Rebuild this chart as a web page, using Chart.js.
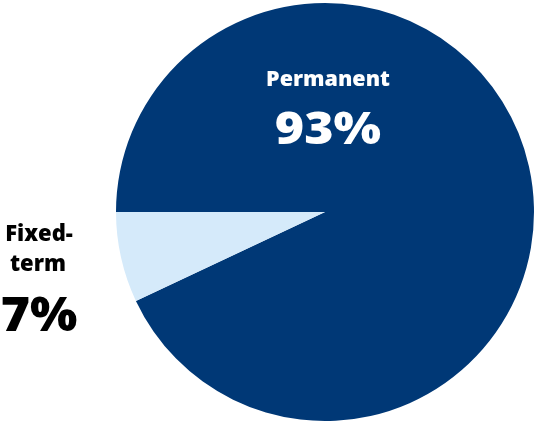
<!DOCTYPE html>
<html>
<head>
<meta charset="utf-8">
<script src="https://cdn.jsdelivr.net/npm/chart.js@4/dist/chart.umd.min.js"></script>
<style>
  html, body { margin: 0; padding: 0; background: #ffffff; }
  #wrap { width: 535px; height: 423px; }
</style>
</head>
<body>
<div id="wrap"><canvas id="chart" width="535" height="423"></canvas></div>
<script>
// Employment contract types
const categories = ['Permanent', 'Fixed-term'];
const shares = [93, 7];
const percentLabels = ['93%', '7%'];
const sliceColors = ['#003876', '#d5eafa'];

const FONT = '"Open Sans", sans-serif';

// Draws centred text, optionally stretched horizontally
function stretchedText(ctx, text, x, y, sx) {
  ctx.save();
  ctx.translate(x, y);
  ctx.scale(sx, 1);
  ctx.fillText(text, 0, 0);
  ctx.restore();
}

// Slice labels: Permanent inside the large slice, Fixed-term to the left of the pie
const sliceLabels = {
  id: 'sliceLabels',
  afterDatasetsDraw(chart) {
    const ctx = chart.ctx;
    const arc = chart.getDatasetMeta(0).data[0];
    const cx = arc.x, cy = arc.y, r = arc.outerRadius;
    ctx.save();
    ctx.textAlign = 'center';
    ctx.textBaseline = 'alphabetic';

    // Permanent
    ctx.fillStyle = '#ffffff';
    ctx.font = '800 21.5px ' + FONT;
    ctx.fillText(categories[0], cx + 3, cy - r * 0.605);
    ctx.font = '800 44px ' + FONT;
    stretchedText(ctx, percentLabels[0], cx + 3, cy - r * 0.327, 1.14);

    // Fixed-term
    ctx.fillStyle = '#000000';
    ctx.font = '800 22px ' + FONT;
    ctx.fillText('Fixed-', 39, 241);
    ctx.fillText('term', 38, 271);
    ctx.font = '800 48px ' + FONT;
    stretchedText(ctx, percentLabels[1], 39, 331, 1.04);
    ctx.restore();
  }
};

new Chart(document.getElementById('chart'), {
  type: 'pie',
  data: {
    labels: categories,
    datasets: [{
      data: shares,
      backgroundColor: sliceColors,
      borderWidth: 0
    }]
  },
  options: {
    responsive: false,
    animation: false,
    rotation: -90,
    layout: { padding: { left: 116, top: 3, right: 1, bottom: 2 } },
    plugins: {
      legend: { display: false },
      tooltip: { enabled: false }
    }
  },
  plugins: [sliceLabels]
});
</script>
</body>
</html>
